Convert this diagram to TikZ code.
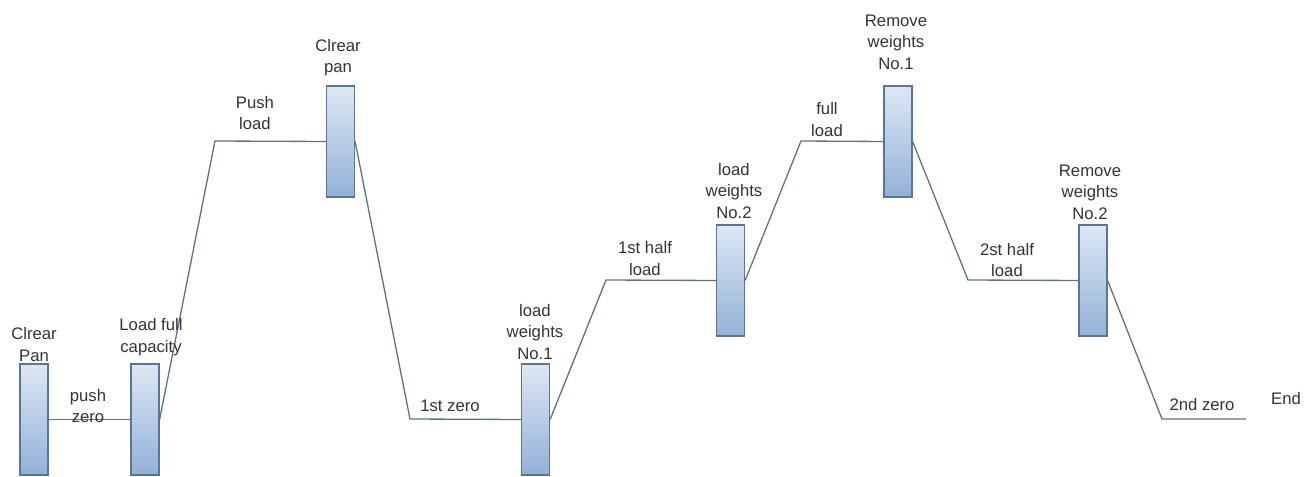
\documentclass[tikz,border=0pt]{standalone}
\usepackage{fontspec}
\setmainfont{Liberation Sans}
\usetikzlibrary{positioning}
\definecolor{barTop}{HTML}{DDE7F4}
\definecolor{barBot}{HTML}{93B1D6}
\definecolor{barEdge}{HTML}{5B7596}
\definecolor{linkCol}{HTML}{5F7388}

\begin{document}
\begin{tikzpicture}[
    stage/.style={draw=barEdge, line width=0.7pt, minimum width=0.56cm, minimum height=2.22cm,
                  inner sep=0pt, top color=barTop, bottom color=barBot},
    link/.style={draw=linkCol, line width=0.75pt},
    lbl/.style={font=\fontsize{9.5}{12.2}\selectfont, align=center, text=black!80, inner sep=1pt}
]
\useasboundingbox (0,0) rectangle (26.30,9.52);

% weighing stages
\node[stage] (pan0)  at (0.68, 1.13)  {};
\node[stage] (cap)   at (2.90, 1.13)  {};
\node[stage] (pan1)  at (6.81, 6.69)  {};
\node[stage] (addA)  at (10.71, 1.13) {};
\node[stage] (addB)  at (14.61, 3.91) {};
\node[stage] (remA)  at (17.96, 6.69) {};
\node[stage] (remB)  at (21.86, 3.91) {};

% corners of the load profile
\coordinate (pushload) at (4.30, 6.70);
\coordinate (zero1)    at (8.20, 1.14);
\coordinate (half1)    at (12.12, 3.92);
\coordinate (full)     at (16.02, 6.70);
\coordinate (half2)    at (19.36, 3.92);
\coordinate (zero2)    at (23.24, 1.14);
\coordinate (finish)   at (24.92, 1.14);

% load profile
\draw[link] (pan0.east) -- (cap.west);
\draw[link] (cap.east) -- (pushload) -- (pan1.west);
\draw[link] (pan1.east) -- (zero1) -- (addA.west);
\draw[link] (addA.east) -- (half1) -- (addB.west);
\draw[link] (addB.east) -- (full) -- (remA.west);
\draw[link] (remA.east) -- (half2) -- (remB.west);
\draw[link] (remB.east) -- (zero2) -- (finish);

% stage labels
\node[lbl] (tpan0) at (0.68, 2.63)  {Clrear\\Pan};
\node[lbl] (tcap)  at (3.02, 2.78)  {Load full\\capacity};
\node[lbl] (tpan1) at (6.76, 8.37)  {Clrear\\pan};
\node[lbl] (taddA) at (10.70, 2.88) {load\\weights\\No.1};
\node[lbl] (taddB) at (14.68, 5.70) {load\\weights\\No.2};
\node[lbl] (tremA) at (17.92, 8.68) {Remove\\weights\\No.1};
\node[lbl] (tremB) at (21.80, 5.68) {Remove\\weights\\No.2};

% level labels
\node[lbl] (tpush)  at (1.76, 1.40)  {push\\zero};
\node[lbl] (tload)  at (5.10, 7.26)  {Push\\load};
\node[lbl] (tzero1) at (9.00, 1.40)  {1st zero};
\node[lbl] (thalf1) at (12.90, 4.35) {1st half\\load};
\node[lbl] (tfull)  at (16.54, 7.13) {full\\load};
\node[lbl] (thalf2) at (20.14, 4.32) {2st half\\load};
\node[lbl] (tzero2) at (24.04, 1.42) {2nd zero};
\node[lbl] (tend)   at (25.72, 1.54) {End};

\end{tikzpicture}
\end{document}
